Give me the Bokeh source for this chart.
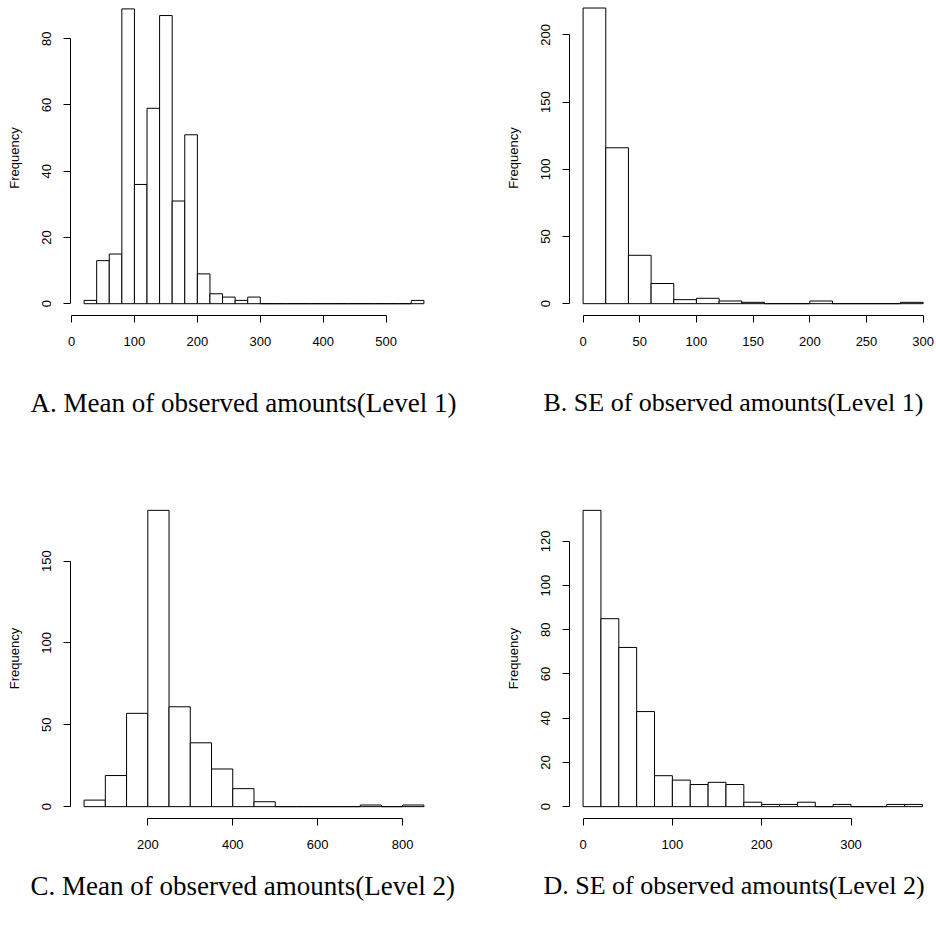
from bokeh.plotting import figure
from bokeh.layouts import gridplot
from bokeh.models import Range1d, FixedTicker, Title
from bokeh.embed import file_html
from bokeh.resources import INLINE

# ---------------- data (histogram breaks and counts) ----------------
a_edges = [20, 40, 60, 80, 100, 120, 140, 160, 180, 200, 220, 240, 260, 280, 300,
           320, 340, 360, 380, 400, 420, 440, 460, 480, 500, 520, 540, 560]
a_counts = [1, 13, 15, 89, 36, 59, 87, 31, 51, 9, 3, 2, 1, 2,
            0, 0, 0, 0, 0, 0, 0, 0, 0, 0, 0, 0, 1]
a_xticks = [0, 100, 200, 300, 400, 500]
a_yticks = [0, 20, 40, 60, 80]
a_caption = "A. Mean of observed amounts(Level 1)"

b_edges = [0, 20, 40, 60, 80, 100, 120, 140, 160, 180, 200, 220, 240, 260, 280, 300]
b_counts = [220, 116, 36, 15, 3, 4, 2, 1, 0, 0, 2, 0, 0, 0, 1]
b_xticks = [0, 50, 100, 150, 200, 250, 300]
b_yticks = [0, 50, 100, 150, 200]
b_caption = "B. SE of observed amounts(Level 1)"

c_edges = [50, 100, 150, 200, 250, 300, 350, 400, 450, 500, 550, 600, 650, 700, 750, 800, 850]
c_counts = [4, 19, 57, 181, 61, 39, 23, 11, 3, 0, 0, 0, 0, 1, 0, 1]
c_xticks = [200, 400, 600, 800]
c_yticks = [0, 50, 100, 150]
c_caption = "C. Mean of observed amounts(Level 2)"

d_edges = [0, 20, 40, 60, 80, 100, 120, 140, 160, 180, 200, 220, 240, 260, 280,
           300, 320, 340, 360, 380]
d_counts = [134, 85, 72, 43, 14, 12, 10, 11, 10, 2, 1, 1, 2, 0, 1, 0, 0, 1, 1]
d_xticks = [0, 100, 200, 300]
d_yticks = [0, 20, 40, 60, 80, 100, 120]
d_caption = "D. SE of observed amounts(Level 2)"

TICK_FONT = "Liberation Sans"
CAP_FONT = "Liberation Serif"


def panel(edges, counts, xticks, yticks, xr, yr, w, h, mb, caption, cap_off,
          cap_standoff, cap_size):
    p = figure(width=w, height=h, output_backend="svg", toolbar_location=None,
               x_range=Range1d(*xr), y_range=Range1d(*yr),
               min_border_left=mb[0], min_border_right=mb[1],
               min_border_top=mb[2], min_border_bottom=mb[3],
               title=None)
    p.outline_line_color = None
    p.background_fill_color = "white"
    p.border_fill_color = "white"
    p.xgrid.visible = False
    p.ygrid.visible = False
    p.quad(left=edges[:-1], right=edges[1:], top=counts, bottom=0,
           fill_color="white", line_color="black", line_width=1)
    for ax, ticks in ((p.xaxis[0], xticks), (p.yaxis[0], yticks)):
        ax.ticker = FixedTicker(ticks=ticks, minor_ticks=[])
        ax.bounds = (ticks[0], ticks[-1])
        ax.axis_line_color = "black"
        ax.axis_line_width = 1
        ax.major_tick_line_color = "black"
        ax.major_tick_in = 0
        ax.major_tick_out = 7
        ax.minor_tick_line_color = None
        ax.major_label_text_font = TICK_FONT
        ax.major_label_text_font_size = "13px"
        ax.major_label_text_color = "black"
    p.xaxis[0].major_label_standoff = 14
    p.yaxis[0].major_label_standoff = 12
    p.yaxis[0].major_label_orientation = "vertical"
    p.yaxis[0].axis_label = "Frequency"
    p.yaxis[0].axis_label_text_font = TICK_FONT
    p.yaxis[0].axis_label_text_font_size = "13px"
    p.yaxis[0].axis_label_text_font_style = "normal"
    p.yaxis[0].axis_label_text_color = "black"
    p.yaxis[0].axis_label_standoff = 18
    t = Title(text=caption, align="left", offset=cap_off, standoff=cap_standoff,
              text_font=CAP_FONT, text_font_size=cap_size, text_font_style="normal",
              text_color="black")
    p.add_layout(t, "below")
    return p


pA = panel(a_edges, a_counts, a_xticks, a_yticks, (-1.6, 581.6), (-3.56, 91.54),
           468, 478, (70, 31, 0, 163), a_caption, -40, 75, "27px")
pB = panel(b_edges, b_counts, b_xticks, b_yticks, (-12, 310.9), (-8.8, 225.6),
           468, 478, (101, 1, 0, 163), b_caption, -26, 75, "26px")
pC = panel(c_edges, c_counts, c_xticks, c_yticks, (18, 882), (-7.24, 188.24),
           468, 455, (70, 31, 20, 115), c_caption, -40, 34, "27px")
pD = panel(d_edges, d_counts, d_xticks, d_yticks, (-15.2, 394.6), (-5.36, 139.36),
           468, 455, (101, 1, 20, 115), d_caption, -26, 34, "26px")

grid = gridplot([[pA, pB], [pC, pD]], toolbar_location=None)

open("out.html", "w").write(file_html(grid, INLINE))
